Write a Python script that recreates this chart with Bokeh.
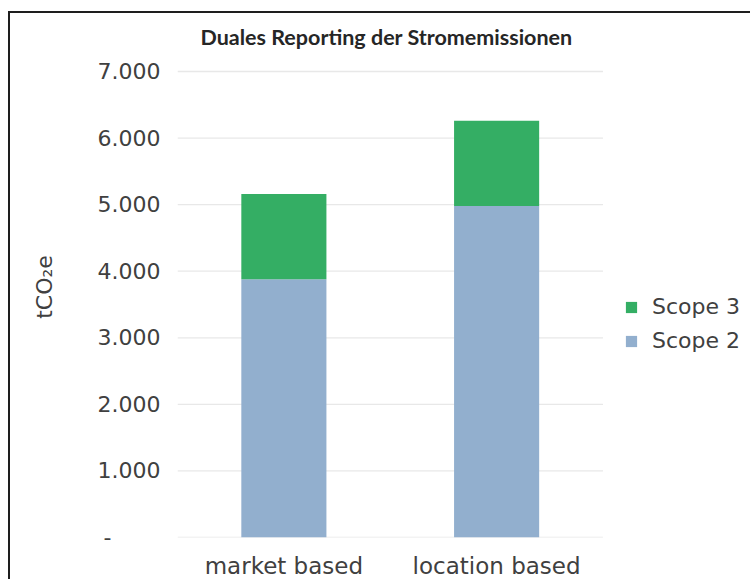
from bokeh.plotting import figure
from bokeh.models import (ColumnDataSource, Legend, LegendItem,
                          FixedTicker, Range1d, Label)
from bokeh.embed import file_html
from bokeh.resources import INLINE

# ---- data ----
categories = ["market based", "location based"]
scope2 = [3880, 4980]
scope3 = [1280, 1280]
series_keys = ["s2", "s3"]
series_names = ["Scope 2", "Scope 3"]
series_colors = ["#92AFCE", "#34AE64"]
y_ticks = [0, 1000, 2000, 3000, 4000, 5000, 6000, 7000]
y_tick_labels = ["-", "1.000", "2.000", "3.000", "4.000", "5.000", "6.000", "7.000"]
title_text = "Duales Reporting der Stromemissionen"
y_title = "tCO\u2082e"

# ---- layout constants ----
W, H = 740, 566
B_LEFT, B_RIGHT, B_TOP, B_BOTTOM = 167, 1, 2, 42
CAT_W = 212          # pixels per category slot
PLOT_TOP = 58        # canvas y of the 7.000 line
FRAME_W = W - B_LEFT - B_RIGHT
FRAME_H = H - B_TOP - B_BOTTOM
PLOT_H = H - B_BOTTOM - PLOT_TOP
x_end = FRAME_W / CAT_W
y_max = y_ticks[-1]
y_end = y_max * FRAME_H / PLOT_H

pos = [i + 0.5 for i in range(len(categories))]
source = ColumnDataSource(dict(x=pos, s2=scope2, s3=scope3))

FONT = "DejaVu Sans"
TXT = "#404040"

p = figure(x_range=Range1d(0, x_end), y_range=Range1d(0, y_end),
           width=W, height=H,
           output_backend="svg", toolbar_location=None,
           min_border_left=B_LEFT, min_border_right=B_RIGHT,
           min_border_top=B_TOP, min_border_bottom=B_BOTTOM,
           styles={"margin-left": "8px", "margin-top": "11px",
                   "border-left": "2px solid #1e1e1e",
                   "border-top": "2px solid #1e1e1e",
                   "box-sizing": "content-box"})
p.outline_line_color = None
p.background_fill_color = "white"
p.border_fill_color = "white"

# gridlines only across the category area
p.xgrid.grid_line_color = None
p.ygrid.grid_line_color = None
p.segment(x0=0, x1=len(categories), y0=y_ticks, y1=y_ticks,
          line_color="#e8e8e8", line_width=1.3)

renderers = p.vbar_stack(series_keys, x="x", width=0.4, color=series_colors,
                         line_color=None, source=source)

# title (drawn inside the tall frame, above the 7.000 line)
p.add_layout(Label(x=23, y=H - B_BOTTOM - 23, x_units="screen", y_units="screen",
                   text=title_text, text_align="left", text_baseline="alphabetic",
                   text_font="Lato", text_font_style="bold",
                   text_font_size="21.5px", text_color="#262626"))

# axes
for ax in (p.xaxis[0], p.yaxis[0]):
    ax.axis_line_color = None
    ax.major_tick_line_color = None
    ax.minor_tick_line_color = None
    ax.major_tick_out = 0
    ax.major_tick_in = 0
    ax.minor_tick_out = 0
    ax.minor_tick_in = 0
    ax.major_label_text_font = FONT
    ax.major_label_text_color = TXT

p.xaxis.ticker = FixedTicker(ticks=pos)
p.xaxis.major_label_overrides = {x: c for x, c in zip(pos, categories)}
p.xaxis.major_label_text_font_size = "23px"
p.xaxis.major_label_standoff = 15

p.yaxis.major_label_text_font_size = "22px"
p.yaxis.ticker = FixedTicker(ticks=y_ticks)
overrides = {}
for t, lab in zip(y_ticks, y_tick_labels):
    overrides[t] = lab + ("\u00a0" * 7 if lab == "-" else "")
p.yaxis.major_label_overrides = overrides
p.yaxis.major_label_standoff = 17
p.yaxis.axis_label = y_title + "\u00a0" * 3
p.yaxis.axis_label_text_font = FONT
p.yaxis.axis_label_text_font_size = "22px"
p.yaxis.axis_label_text_font_style = "normal"
p.yaxis.axis_label_text_color = TXT
p.yaxis.axis_label_standoff = 38

# legend (inside the wide frame, right of the bars)
legend = Legend(items=[LegendItem(label=series_names[1], renderers=[renderers[1]]),
                       LegendItem(label=series_names[0], renderers=[renderers[0]])],
                location=(447, 184), glyph_width=14, glyph_height=14,
                label_standoff=14, spacing=9, padding=0, margin=0,
                border_line_color=None, background_fill_alpha=0,
                label_text_font=FONT, label_text_font_size="22px",
                label_text_color=TXT)
p.add_layout(legend)

open("out.html", "w").write(file_html(p, INLINE))
